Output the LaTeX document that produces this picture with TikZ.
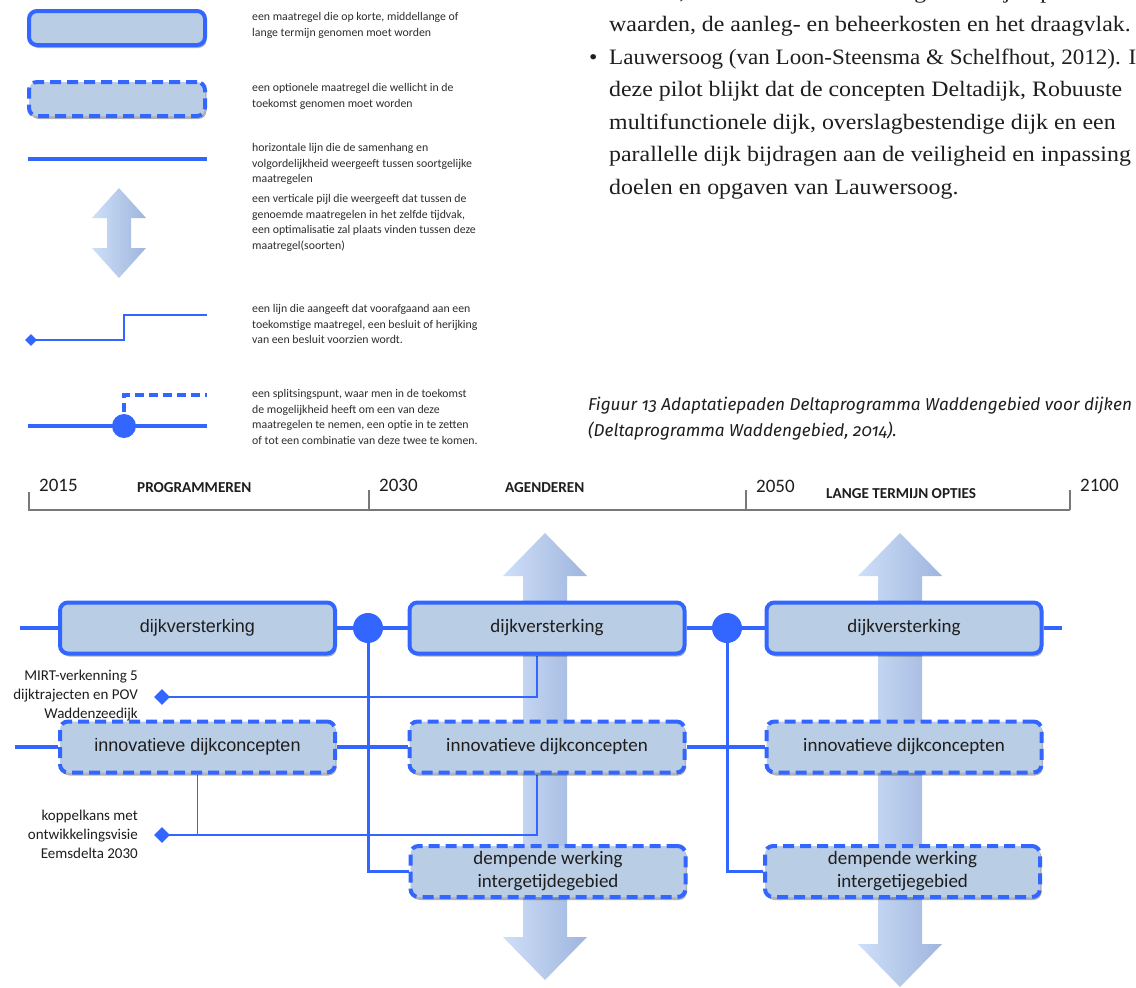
\documentclass[tikz,border=0pt]{standalone}
\usepackage{fontspec}
\setmainfont{Carlito}
\newfontfamily\arialf{Liberation Sans}
\newfontfamily\serf[FakeStretch=1.085]{Liberation Serif}
\newfontfamily\capf[Numbers=OldStyle]{Fira Sans}
\usetikzlibrary{shapes.geometric,shadows}
\definecolor{bl}{RGB}{51,102,255}
\definecolor{bfill}{RGB}{185,205,229}
\definecolor{arrL}{RGB}{206,223,248}
\definecolor{arrR}{RGB}{158,181,221}
\definecolor{txt}{RGB}{30,30,30}
\definecolor{legtxt}{RGB}{45,45,45}
\definecolor{tlgray}{RGB}{120,120,120}
\pgfdeclarelayer{paper}
\pgfdeclarelayer{arr}
\pgfdeclarelayer{bg}
\pgfsetlayers{paper,arr,bg,main}
\newcommand\dblarr[6]{%
  \shade[left color=arrL, right color=arrR] (#1,#2) -- (#1+#4,#2+#6) -- (#1+#5,#2+#6) -- (#1+#5,#3-#6) -- (#1+#4,#3-#6) -- (#1,#3) -- (#1-#4,#3-#6) -- (#1-#5,#3-#6) -- (#1-#5,#2+#6) -- (#1-#4,#2+#6) -- cycle;}
\tikzset{
  mbox/.style={rectangle, rounded corners=8pt, draw=bl, line width=4pt, fill=bfill,
    minimum width=275pt, minimum height=51pt, inner sep=0pt, text=txt, align=center,
    font=\fontsize{19}{23}\selectfont,
    drop shadow={shadow xshift=1.5pt, shadow yshift=-3pt, opacity=0.3, fill=black}},
  obox/.style={mbox, dash pattern=on 11pt off 6pt},
  rowl/.style={draw=bl, line width=4.5pt},
  vline/.style={draw=bl, line width=3pt},
  thinl/.style={draw=bl, line width=2.2pt},
  hair/.style={draw=bl, line width=1.2pt},
  dmd/.style={diamond, fill=bl, inner sep=0pt, minimum size=16pt},
  jn/.style={circle, fill=bl, inner sep=0pt, minimum size=30pt},
  leg/.style={anchor=north west, align=left, inner sep=0pt, text=legtxt, font=\fontsize{11.8}{15.5}\selectfont},
  lbl/.style={anchor=north east, align=right, inner sep=0pt, text=txt, font=\fontsize{15}{19}\selectfont},
  tl/.style={draw=tlgray, line width=2.5pt},
  yr/.style={anchor=base west, inner sep=0pt, text=txt, font=\fontsize{19}{22}\selectfont},
  ph/.style={anchor=base west, inner sep=0pt, text=txt, font=\bfseries\fontsize{15.2}{17}\selectfont},
  ser/.style={anchor=base west, inner sep=0pt, text=txt, font=\serf\fontsize{22}{26}\selectfont},
  captxt/.style={anchor=base west, inner sep=0pt, text=txt, font=\capf\itshape\fontsize{17.2}{20}\selectfont}
}
\begin{document}
\begin{tikzpicture}[x=1pt,y=-1pt]
\useasboundingbox (0,0) rectangle (1136,988);
\begin{pgfonlayer}{paper}
\fill[white] (0,0) rectangle (1136,988);
\end{pgfonlayer}

% ---------- right text block ----------
\begin{scope}
\clip (0,0) rectangle (1136,988);
\node[ser] (r0) at (609,-1.5) {winnen, het effect van de brede groene dijk op natuur-};
\node[ser] (r1) at (609,31) {waarden, de aanleg- en beheerkosten en het draagvlak.};
\node[ser] (rb) at (589,64) {•};
\node[ser] (r2) at (609,64) {\scalebox{0.966}[1]{Lauwersoog (van Loon-Steensma \& Schelfhout, 2012). In}};
\node[ser] (r3) at (609,96.5) {deze pilot blijkt dat de concepten Deltadijk, Robuuste};
\node[ser] (r4) at (609,129) {multifunctionele dijk, overslagbestendige dijk en een};
\node[ser] (r5) at (609,161.5) {parallelle dijk bijdragen aan de veiligheid en inpassing};
\node[ser] (r6) at (609,194) {doelen en opgaven van Lauwersoog.};
\end{scope}

% ---------- caption ----------
\node[captxt] (cp1) at (588,410) {Figuur 13 Adaptatiepaden Deltaprogramma Waddengebied voor dijken};
\node[captxt] (cp2) at (588,436) {(Deltaprogramma Waddengebied, 2014).};

% ---------- legend ----------
\node[mbox, minimum width=176pt, minimum height=34pt] (lb1) at (117,28) {};
\node[obox, minimum width=176pt, minimum height=34pt] (lb2) at (117,99) {};
\coordinate (h1) at (28,159); \coordinate (h2) at (207,159);
\draw[rowl] (h1) -- (h2);
\dblarr{119}{188}{278}{27}{12}{30}
\node[dmd, minimum size=12pt] (ld) at (31,340) {};
\coordinate (s1) at (124,340); \coordinate (s2) at (124,315); \coordinate (s3) at (207,315);
\draw[thinl] (ld.center) -- (s1) -- (s2) -- (s3);
\coordinate (p1) at (28,426); \coordinate (p2) at (207,426);
\coordinate (q1) at (124,395); \coordinate (q2) at (207,395);
\draw[rowl] (p1) -- (p2);
\draw[rowl, dash pattern=on 9pt off 5pt] (124,426) -- (q1) -- (q2);
\node[jn, minimum size=24pt] (lc) at (124,426) {};

\node[leg] (t1) at (252,12.5) {een maatregel die op korte, middellange of\\lange termijn genomen moet worden};
\node[leg] (t2) at (252,83.5) {een optionele maatregel die wellicht in de\\toekomst genomen moet worden};
\node[leg] (t3) at (252,143.5) {horizontale lijn die de samenhang en\\volgordelijkheid weergeeft tussen soortgelijke\\maatregelen};
\node[leg] (t4) at (252,194.5) {een verticale pijl die weergeeft dat tussen de\\genoemde maatregelen in het zelfde tijdvak,\\een optimalisatie zal plaats vinden tussen deze\\maatregel(soorten)};
\node[leg] (t5) at (252,304.5) {een lijn die aangeeft dat voorafgaand aan een\\toekomstige maatregel, een besluit of herijking\\van een besluit voorzien wordt.};
\node[leg] (t6) at (252,389.5) {een splitsingspunt, waar men in de toekomst\\de mogelijkheid heeft om een van deze\\maatregelen te nemen, een optie in te zetten\\of tot een combinatie van deze twee te komen.};

% ---------- timeline ----------
\draw[tl] (29,492) -- (29,510) -- (1070,510);
\draw[tl] (369,490) -- (369,510);
\draw[tl] (746,490) -- (746,510);
\draw[tl] (1070,490) -- (1070,510);
\node[yr] (y1) at (39,491) {2015};
\node[yr] (y2) at (379,491) {2030};
\node[yr] (y3) at (756,492) {2050};
\node[yr] (y4) at (1080,491) {2100};
\node[ph] (ph1) at (137,492) {PROGRAMMEREN};
\node[ph] (ph2) at (505,492) {AGENDEREN};
\node[ph] (ph3) at (826,498) {LANGE TERMIJN OPTIES};

% ---------- big arrows ----------
\begin{pgfonlayer}{arr}
\dblarr{545}{533}{980}{42}{22}{43}
\dblarr{900}{533}{987}{42}{22}{43}
\end{pgfonlayer}

% ---------- side labels ----------
\node[lbl] (m1) at (138,670) {MIRT-verkenning 5\\dijktrajecten en POV\\Waddenzeedijk};
\node[lbl] (m2) at (138,810) {koppelkans met\\ontwikkelingsvisie\\Eemsdelta 2030};

% ---------- boxes ----------
\node[mbox, font=\arialf\fontsize{18}{22}\selectfont] (A) at (197.5,628) {dijkversterking};
\node[mbox] (B) at (547,628) {dijkversterking};
\node[mbox] (C) at (904,628) {dijkversterking};
\node[obox, font=\arialf\fontsize{18}{22}\selectfont] (D) at (197.5,747) {innovatieve dijkconcepten};
\node[obox] (E) at (547,747) {innovatieve dijkconcepten};
\node[obox] (F) at (904,747) {innovatieve dijkconcepten};
\node[obox] (G) at (548,871.5) {dempende werking\\intergetijdegebied};
\node[obox] (H) at (902.5,871.5) {dempende werking\\intergetijegebied};
\node[jn] (c1) at (368,628) {};
\node[jn] (c2) at (727,628) {};
\node[dmd] (d1) at (162,697) {};
\node[dmd] (d2) at (162,835) {};
\coordinate (l1) at (20,628);
\coordinate (r1e) at (1062,628);
\coordinate (l2) at (15,747);

% ---------- connectors ----------
\begin{pgfonlayer}{bg}
\draw[rowl] (l1) -- (A.west);
\draw[rowl] (A.east) -- (c1.center) -- (B.west);
\draw[rowl] (B.east) -- (c2.center) -- (C.west);
\draw[rowl] (C.east) -- (r1e);
\draw[rowl] (l2) -- (D.west);
\draw[rowl] (D.east) -- (E.west);
\draw[rowl] (E.east) -- (F.west);
\draw[vline] (c1.center) |- (G.west);
\draw[vline] (c2.center) |- (H.west);
\draw[thinl] (d1.center) -| ([xshift=-10pt]B.south);
\draw[thinl] (d2.center) -| ([xshift=-10pt]E.south);
\draw[hair] (D.south) -- (D.south |- d2);
\end{pgfonlayer}
\end{tikzpicture}
\end{document}
